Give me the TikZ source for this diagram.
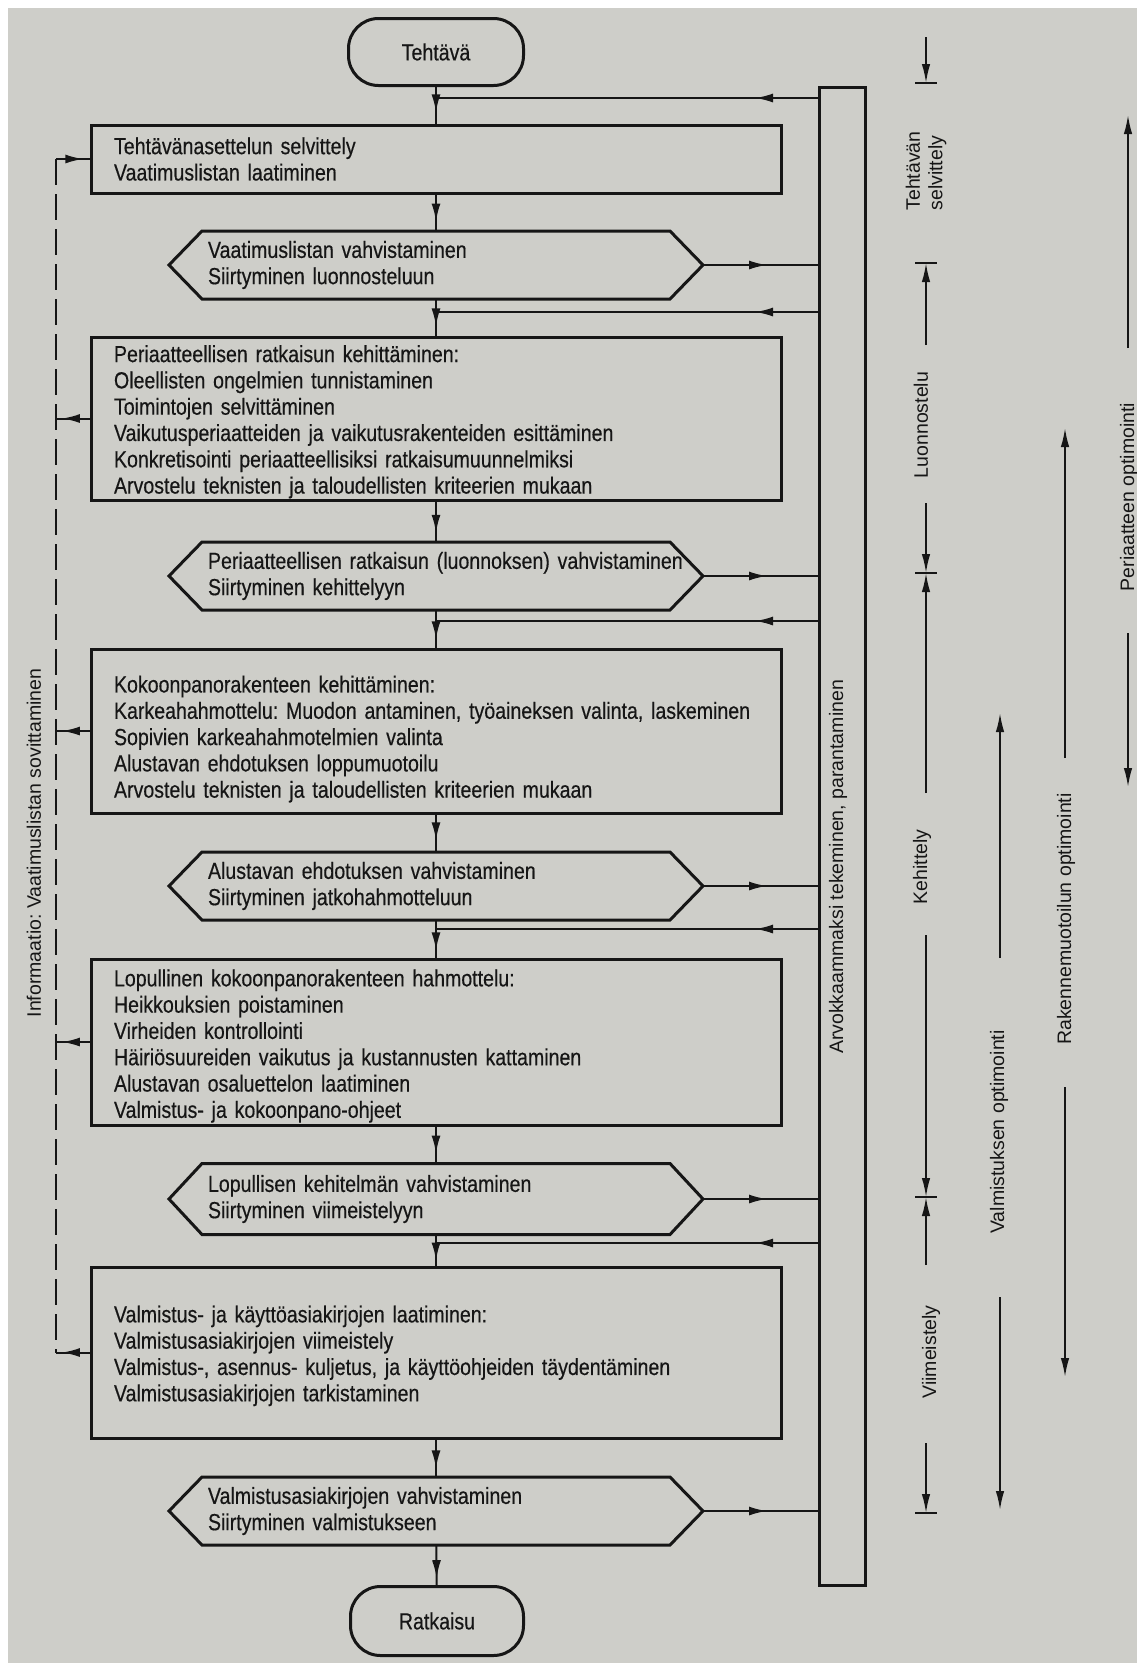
\documentclass[tikz,border=0pt]{standalone}
\usepackage{fontspec}
\setmainfont{Liberation Sans}
\newfontfamily\condfont[FakeStretch=0.84,FakeBold=0.4]{Liberation Sans}
\usetikzlibrary{arrows.meta,decorations.markings}
\definecolor{paper}{RGB}{206,206,201}
\definecolor{ink}{RGB}{22,22,22}
\frenchspacing
\newcommand{\toppad}[1]{\rule{0pt}{#1}}
\begin{document}
\begin{tikzpicture}[x=1pt,y=-1pt,
  >={Latex[length=18pt,width=9pt]},
  every node/.style={inner sep=0pt,outer sep=0pt,text=ink},
  mainfont/.style={font=\condfont\fontsize{23.3}{26.3}\selectfont},
  sidefont/.style={font=\fontsize{19.5}{22.5}\selectfont},
  stepbox/.style={draw=ink,line width=3pt,mainfont,align=left,text width=644pt,inner xsep=23pt,minimum width=690pt},
  hexnode/.style={mainfont,align=left,text width=456pt,inner xsep=39pt,minimum width=534pt,minimum height=68pt},
  endbox/.style={draw=ink,line width=3pt,rounded corners=30pt,mainfont,minimum width=175pt,minimum height=67pt},
  hexline/.style={draw=ink,line width=3pt,line join=miter},
  conn/.style={draw=ink,line width=2pt},
  midarrow/.style={postaction={decorate,decoration={markings,mark=at position #1 with {\arrow{>}}}}},
  side/.style={draw=ink,line width=1.8pt,-{Latex[length=19pt,width=8.5pt]}},
  tickline/.style={draw=ink,line width=2pt},
  sidelabel/.style={sidefont,rotate=90,align=left}
]
\useasboundingbox (0,0) rectangle (1137,1663);
\fill[white] (0,0) rectangle (1137,1663);
\fill[paper] (8,8) rectangle (1137,1663);

% main flow
\node[endbox] (T) at (436,52) {Tehtävä};
\node[stepbox,minimum height=68pt] (b1) at (436,159) {Tehtävänasettelun selvittely\\Vaatimuslistan laatiminen};
\node[hexnode] (h1) at (436,265) {Vaatimuslistan vahvistaminen\\Siirtyminen luonnosteluun};
\node[stepbox,minimum height=163pt] (b2) at (436,418.5) {\toppad{23.5pt}Periaatteellisen ratkaisun kehittäminen:\\Oleellisten ongelmien tunnistaminen\\Toimintojen selvittäminen\\Vaikutusperiaatteiden ja vaikutusrakenteiden esittäminen\\Konkretisointi periaatteellisiksi ratkaisumuunnelmiksi\\Arvostelu teknisten ja taloudellisten kriteerien mukaan};
\node[hexnode] (h2) at (436,576) {\mbox{Periaatteellisen ratkaisun (luonnoksen) vahvistaminen}\\Siirtyminen kehittelyyn};
\node[stepbox,minimum height=164pt] (b3) at (436,731) {\toppad{33pt}Kokoonpanorakenteen kehittäminen:\\\mbox{Karkeahahmottelu: Muodon antaminen, työaineksen valinta, laskeminen}\\Sopivien karkeahahmotelmien valinta\\Alustavan ehdotuksen loppumuotoilu\\Arvostelu teknisten ja taloudellisten kriteerien mukaan};
\node[hexnode] (h3) at (436,886) {Alustavan ehdotuksen vahvistaminen\\Siirtyminen jatkohahmotteluun};
\node[stepbox,minimum height=166pt] (b4) at (436,1042) {\toppad{25pt}Lopullinen kokoonpanorakenteen hahmottelu:\\Heikkouksien poistaminen\\Virheiden kontrollointi\\Häiriösuureiden vaikutus ja kustannusten kattaminen\\Alustavan osaluettelon laatiminen\\Valmistus- ja kokoonpano-ohjeet};
\node[hexnode,minimum height=71pt] (h4) at (436,1199) {Lopullisen kehitelmän vahvistaminen\\Siirtyminen viimeistelyyn};
\node[stepbox,minimum height=171pt] (b5) at (436,1352.5) {\toppad{23.5pt}Valmistus- ja käyttöasiakirjojen laatiminen:\\Valmistusasiakirjojen viimeistely\\Valmistus-, asennus- kuljetus, ja käyttöohjeiden täydentäminen\\Valmistusasiakirjojen tarkistaminen};
\node[hexnode] (h5) at (436,1511) {Valmistusasiakirjojen vahvistaminen\\Siirtyminen valmistukseen};
\node[endbox,minimum width=173pt,minimum height=69pt] (R) at (437,1621) {Ratkaisu};

\foreach \h in {h1,h2,h3,h4,h5}
  \draw[hexline] (\h.west) -- ([xshift=33pt]\h.north west) -- ([xshift=-33pt]\h.north east) -- (\h.east) -- ([xshift=-33pt]\h.south east) -- ([xshift=33pt]\h.south west) -- cycle;

% bar
\node[draw=ink,line width=3pt,minimum width=46pt,minimum height=1498pt] (bar) at (842,836) {};
\node[sidefont,rotate=90] (barlbl) at (838,867) {Arvokkaammaksi tekeminen, parantaminen};

% junctions
\coordinate (j0) at (436,98);
\coordinate (j1) at (436,312);
\coordinate (j2) at (436,621);
\coordinate (j3) at (436,929);
\coordinate (j4) at (436,1243);

\draw[conn,midarrow=0.68] (T) -- (b1);
\draw[conn,midarrow=0.75] (b1) -- (h1);
\draw[conn,midarrow=0.72] (h1) -- (b2);
\draw[conn,midarrow=0.78] (b2) -- (h2);
\draw[conn,midarrow=0.75] (h2) -- (b3);
\draw[conn,midarrow=0.7] (b3) -- (h3);
\draw[conn,midarrow=0.78] (h3) -- (b4);
\draw[conn,midarrow=0.74] (b4) -- (h4);
\draw[conn,midarrow=0.8] (h4) -- (b5);
\draw[conn,midarrow=0.78] (b5) -- (h5);
\draw[conn,midarrow=0.8] (h5) -- (R);

\foreach \j in {j0,j1,j2,j3,j4}
  \draw[conn,midarrow=64pt] (bar.west |- \j) -- (\j);
\foreach \h in {h1,h2,h3,h4,h5}
  \draw[conn,midarrow=-52pt] (\h.east) -- (\h.east -| bar.west);

% left feedback
\coordinate (dtop) at (56,159);
\coordinate (dbot) at (56,1352.5);
\draw[conn,dash pattern=on 26pt off 9pt] (dtop) -- (dbot);
\draw[conn,midarrow=0.78] (dtop) -- (b1.west);
\foreach \b in {b2,b3,b4,b5}
  \draw[conn,midarrow=0.83] (\b.west) -- (\b.west -| dtop);
\node[sidefont,rotate=90] (info) at (34,843) {Informaatio: Vaatimuslistan sovittaminen};

% column A: phases
\coordinate (tA0) at (926,83);
\coordinate (tA1) at (926,263);
\coordinate (tA2) at (926,573);
\coordinate (tA3) at (926,1197);
\coordinate (tA4) at (926,1513);
\foreach \t in {tA0,tA1,tA2,tA3,tA4}
  \draw[tickline] ([xshift=-11pt]\t) -- ([xshift=11pt]\t);
\coordinate (sA0) at (926,37);
\coordinate (sA1) at (926,345);
\coordinate (sA2) at (926,503);
\coordinate (sA3) at (926,793);
\coordinate (sA4) at (926,935);
\coordinate (sA5) at (926,1265);
\coordinate (sA6) at (926,1443);
\draw[side] (sA0) -- (tA0);
\draw[side] (sA1) -- (tA1);
\draw[side] (sA2) -- (tA2);
\draw[side] (sA3) -- (tA2);
\draw[side] (sA4) -- (tA3);
\draw[side] (sA5) -- (tA3);
\draw[side] (sA6) -- (tA4);
\node[sidelabel] (lA1) at (926,171) {Tehtävän\\selvittely};
\node[sidelabel] (lA2) at (921,425) {Luonnostelu};
\node[sidelabel] (lA3) at (922,867) {Kehittely};
\node[sidelabel] (lA4) at (931,1352) {Viimeistely};

% column B
\coordinate (sB0) at (1000,958);
\coordinate (eB0) at (1000,713);
\coordinate (sB1) at (1000,1297);
\coordinate (eB1) at (1000,1510);
\draw[side] (sB0) -- (eB0);
\draw[side] (sB1) -- (eB1);
\node[sidelabel] (lB) at (999,1132) {Valmistuksen optimointi};

% column C
\coordinate (sC0) at (1065,758);
\coordinate (eC0) at (1065,428);
\coordinate (sC1) at (1065,1087);
\coordinate (eC1) at (1065,1377);
\draw[side] (sC0) -- (eC0);
\draw[side] (sC1) -- (eC1);
\node[sidelabel] (lC) at (1066,919) {Rakennemuotoilun optimointi};

% column D
\coordinate (sD0) at (1128,348);
\coordinate (eD0) at (1128,115);
\coordinate (sD1) at (1128,633);
\coordinate (eD1) at (1128,787);
\draw[side] (sD0) -- (eD0);
\draw[side] (sD1) -- (eD1);
\node[sidelabel] (lD) at (1129,497) {Periaatteen optimointi};
\end{tikzpicture}
\end{document}
